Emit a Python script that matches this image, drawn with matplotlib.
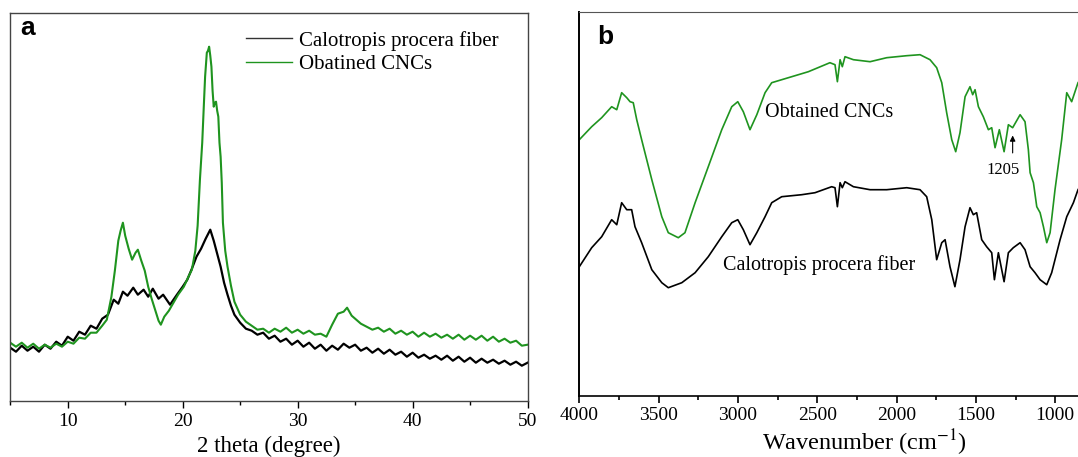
import matplotlib
matplotlib.use("Agg")
import matplotlib.pyplot as plt
from matplotlib.ticker import MultipleLocator

plt.rcParams["font.family"] = ["Liberation Serif", "DejaVu Serif"]
plt.rcParams["mathtext.fontset"] = "stix"

GREEN = "#1f941f"

# XRD (panel a): 2 theta (degree) vs intensity (a.u.)
xrd_fiber_2theta = [5.0, 5.5, 6.0, 6.5, 7.0, 7.5, 8.0, 8.5, 9.0, 9.5, 10.0, 10.5, 11.0, 11.5, 12.0,
                    12.5, 13.0, 13.5, 14.0, 14.4, 14.8, 15.2, 15.7, 16.1, 16.6, 17.0, 17.4, 17.9, 18.3,
                    18.9, 19.5, 20.0, 20.4, 20.8, 21.2, 21.6, 22.0, 22.4, 22.7, 23.0, 23.3, 23.6, 23.9,
                    24.2, 24.5, 25.0, 25.5, 26.0, 26.5, 27.0, 27.5, 28.0, 28.5, 29.0, 29.5, 30.0, 30.5,
                    31.0, 31.5, 32.0, 32.5, 33.0, 33.5, 34.0, 34.5, 35.0, 35.5, 36.0, 36.5, 37.0, 37.5,
                    38.0, 38.5, 39.0, 39.5, 40.0, 40.5, 41.0, 41.5, 42.0, 42.5, 43.0, 43.5, 44.0, 44.5,
                    45.0, 45.5, 46.0, 46.5, 47.0, 47.5, 48.0, 48.5, 49.0, 49.5, 50.0]
xrd_fiber_int = [53, 49, 55, 50, 54, 49, 56, 52, 59, 55, 64, 60, 69, 66, 75,
                 72, 82, 86, 101, 97, 109, 105, 113, 106, 111, 104, 112, 102, 106,
                 96, 106, 114, 121, 132, 144, 152, 162, 171, 160, 147, 134, 118, 106,
                 95, 86, 78, 72, 70, 66, 68, 62, 65, 59, 62, 56, 60, 54,
                 58, 52, 56, 50, 55, 51, 57, 53, 56, 50, 53, 48, 52, 47,
                 51, 46, 49, 44, 48, 43, 46, 42, 45, 41, 45, 40, 44, 39,
                 43, 38, 42, 38, 41, 37, 40, 36, 39, 35, 38]

xrd_cnc_2theta = [5.0, 5.5, 6.0, 6.5, 7.0, 7.5, 8.0, 8.5, 9.0, 9.5, 10.0, 10.5, 11.0, 11.5, 12.0,
                  12.5, 13.0, 13.4, 13.8, 14.1, 14.4, 14.6, 14.8, 15.0, 15.3, 15.6, 15.9, 16.1, 16.4,
                  16.7, 17.0, 17.3, 17.6, 17.9, 18.1, 18.4, 18.8, 19.2, 19.6, 20.1, 20.5, 20.8, 21.1,
                  21.3, 21.5, 21.7, 21.85, 21.95, 22.1, 22.2, 22.3, 22.4, 22.5, 22.6, 22.7, 22.8, 22.9,
                  23.0, 23.1, 23.2, 23.3, 23.4, 23.5, 23.7, 23.9, 24.2, 24.5, 25.0, 25.5, 26.0, 26.5,
                  27.0, 27.5, 28.0, 28.5, 29.0, 29.5, 30.0, 30.5, 31.0, 31.5, 32.0, 32.5, 33.0, 33.5,
                  34.0, 34.3, 34.7, 35.1, 35.5, 36.0, 36.5, 37.0, 37.5, 38.0, 38.5, 39.0, 39.5, 40.0,
                  40.5, 41.0, 41.5, 42.0, 42.5, 43.0, 43.5, 44.0, 44.5, 45.0, 45.5, 46.0, 46.5, 47.0,
                  47.5, 48.0, 48.5, 49.0, 49.5, 50.0]
xrd_cnc_int = [58, 54, 58, 53, 57, 52, 56, 53, 57, 54, 59, 57, 63, 62, 68,
               68, 75, 81, 104, 130, 160, 170, 178, 165, 152, 141, 148, 151, 140,
               130, 114, 102, 91, 80, 76, 84, 90, 98, 106, 114, 124, 131, 150,
               175, 221, 258, 298, 324, 348, 350, 354, 345, 334, 310, 294, 298, 299,
               290, 284, 258, 244, 218, 178, 150, 134, 115, 99, 86, 79, 75, 71,
               72, 68, 72, 69, 73, 68, 71, 67, 70, 66, 67, 64, 76, 87,
               89, 93, 85, 81, 77, 74, 71, 73, 69, 72, 67, 70, 66, 69,
               64, 68, 64, 67, 63, 66, 62, 66, 61, 65, 61, 65, 60, 64,
               59, 62, 58, 60, 55, 56]

# FTIR (panel b): wavenumber (cm-1) vs transmittance (a.u.)
ftir_cnc_wn = [4000, 3922, 3859, 3796, 3764, 3733, 3701, 3680, 3660, 3638, 3607, 3543, 3480, 3439,
               3376, 3334, 3270, 3187, 3102, 3039, 3001, 2966, 2924, 2881, 2829, 2787, 2661, 2556,
               2420, 2388, 2373, 2356, 2342, 2325, 2272, 2167, 2062, 1936, 1852, 1789, 1747, 1715,
               1684, 1652, 1627, 1600, 1568, 1537, 1520, 1505, 1484, 1453, 1421, 1400, 1379, 1352,
               1322, 1295, 1268, 1221, 1190, 1169, 1158, 1137, 1116, 1095, 1074, 1053, 1032, 1001,
               959, 927, 896, 856, 800]
ftir_cnc_t = [256, 269, 278, 289, 286, 303, 298, 294, 293, 276, 256, 216, 179, 163,
              158, 163, 193, 229, 266, 289, 294, 284, 266, 281, 303, 313, 319, 324,
              333, 331, 314, 336, 329, 339, 336, 334, 338, 340, 341, 336, 328, 313,
              283, 256, 244, 263, 299, 309, 301, 306, 289, 279, 266, 268, 248, 266,
              244, 271, 268, 281, 274, 246, 223, 213, 189, 183, 169, 153, 163, 206,
              256, 303, 294, 313, 325]

ftir_fiber_wn = [4000, 3922, 3859, 3796, 3764, 3733, 3701, 3670, 3649, 3607, 3543, 3480, 3439, 3354,
                 3270, 3187, 3102, 3039, 3001, 2966, 2924, 2881, 2829, 2787, 2724, 2598, 2514, 2409,
                 2388, 2373, 2356, 2342, 2325, 2272, 2167, 2062, 1936, 1852, 1810, 1778, 1747, 1715,
                 1694, 1663, 1632, 1600, 1568, 1537, 1516, 1495, 1463, 1432, 1400, 1383, 1358, 1322,
                 1295, 1264, 1221, 1190, 1158, 1127, 1095, 1053, 1022, 969, 927, 885, 856, 800]
ftir_fiber_t = [129, 148, 159, 176, 171, 193, 186, 186, 169, 153, 126, 113, 108, 113,
                123, 139, 159, 173, 176, 166, 151, 163, 179, 193, 199, 201, 203, 209,
                208, 189, 213, 208, 214, 209, 206, 206, 208, 206, 199, 176, 136, 153,
                156, 129, 109, 136, 169, 188, 181, 183, 156, 149, 143, 116, 143, 114,
                143, 148, 153, 146, 129, 123, 116, 111, 123, 156, 179, 193, 206, 220]

fig = plt.figure(figsize=(10.78, 4.57), dpi=100)

# ---- panel a: XRD
ax1 = fig.add_axes([0.0095, 0.1232, 0.4799, 0.8477])
ax1.plot(xrd_fiber_2theta, xrd_fiber_int, color="black", linewidth=1.6, label="Calotropis procera fiber")
ax1.plot(xrd_cnc_2theta, xrd_cnc_int, color=GREEN, linewidth=1.5, label="Obatined CNCs")
ax1.set_xlim(5, 50)
ax1.set_ylim(0, 387.4)
ax1.set_yticks([])
ax1.xaxis.set_major_locator(MultipleLocator(10))
ax1.xaxis.set_minor_locator(MultipleLocator(5))
ax1.tick_params(axis="x", which="major", direction="out", length=5, width=1, labelsize=14, pad=4)
ax1.tick_params(axis="x", which="minor", direction="out", length=3, width=1)
ax1.set_xlabel("2 theta (degree)", fontsize=16.5, labelpad=4)
for sp in ax1.spines.values():
    sp.set_color("#444444")
    sp.set_linewidth(1.0)
leg = ax1.legend(loc="upper left", bbox_to_anchor=(0.456, 0.955), frameon=False, fontsize=15,
                 handlelength=2.2, handletextpad=0.35, labelspacing=0.2, borderpad=0, borderaxespad=0)
for h in leg.get_lines():
    h.set_linewidth(1.0)
leg.get_lines()[0].set_color("#333333")
ax1.text(0.019, 0.962, "a", transform=ax1.transAxes, fontsize=19, fontweight="bold",
         family="Liberation Sans", ha="left", va="center")

# ---- panel b: FTIR (right edge runs past the figure)
ax2 = fig.add_axes([0.5374, 0.1341, 0.5297, 0.8403])
ax2.plot(ftir_fiber_wn, ftir_fiber_t, color="black", linewidth=1.2)
ax2.plot(ftir_cnc_wn, ftir_cnc_t, color=GREEN, linewidth=1.2)
ax2.set_xlim(4000, 400)
ax2.set_ylim(0, 384)
ax2.set_yticks([])
ax2.xaxis.set_major_locator(MultipleLocator(500))
ax2.xaxis.set_minor_locator(MultipleLocator(250))
ax2.tick_params(axis="x", which="major", direction="out", length=5, width=1.2, labelsize=14, pad=3)
ax2.tick_params(axis="x", which="minor", direction="out", length=3, width=1.2)
ax2.set_xlabel("Wavenumber (cm$^{\\mathrm{-1}}$)", fontsize=17.5, labelpad=3)
ax2.spines["left"].set_linewidth(1.4)
ax2.spines["bottom"].set_linewidth(1.2)
ax2.spines["top"].set_color("#555555")
ax2.text(2830, 283, "Obtained CNCs", fontsize=14.5, ha="left", va="center")
ax2.text(3094, 131, "Calotropis procera fiber", fontsize=14.5, ha="left", va="center")
ax2.text(1329, 226, "1205", fontsize=12, ha="center", va="center")
ax2.annotate("", xy=(1268, 263), xytext=(1268, 240),
             arrowprops=dict(arrowstyle="-|>", color="black", lw=0.8, mutation_scale=8))
ax2.text(0.0315, 0.934, "b", transform=ax2.transAxes, fontsize=19, fontweight="bold",
         family="Liberation Sans", ha="left", va="center")

fig.savefig("out.png", dpi=100)
